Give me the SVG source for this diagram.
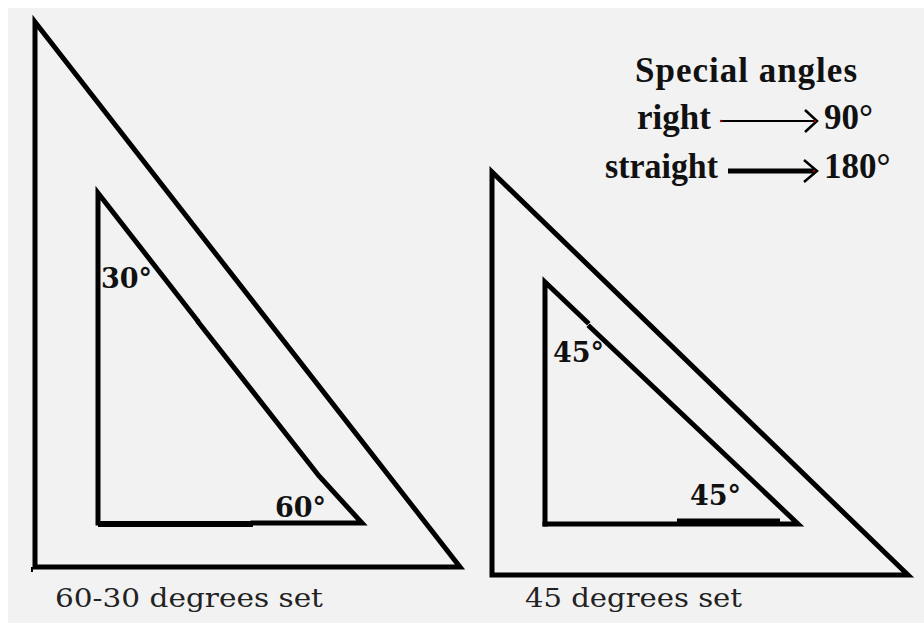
<svg xmlns="http://www.w3.org/2000/svg" width="924" height="625" viewBox="0 0 924 625">
<style>
.ln{fill:none;stroke:#000;stroke-width:5;stroke-linejoin:miter;stroke-linecap:square}
.ang{font-family:"DejaVu Serif","Liberation Serif",serif;font-weight:bold;font-size:27px;fill:#111}
.cap{font-family:"DejaVu Serif","Liberation Serif",serif;font-size:26px;fill:#222}
.sp{font-family:"Liberation Serif","Times New Roman",serif;font-weight:bold;font-size:35px;fill:#111}
.arr{fill:none;stroke:#000;stroke-linecap:butt}
</style>
<rect x="0" y="0" width="924" height="625" fill="#ffffff"/>
<rect x="8" y="8" width="916" height="615" fill="#f2f2f2"/>

<g id="set-60-30">
  <polygon class="ln" points="35,22 35,567 460,567"/>
  <line x1="32" y1="567" x2="32" y2="572" stroke="#000" stroke-width="2"/>
  <g id="inner-60-30">
    <polyline class="ln" points="98,523 98,193 197,320"/>
    <polyline class="ln" points="199,323 319,476 362,523 253,523"/>
    <line x1="98" y1="524" x2="253" y2="524" stroke="#000" stroke-width="6"/>
  </g>
  <text class="ang" x="101" y="288">30°</text>
  <text class="ang" x="275" y="517">60°</text>
  <text class="cap" x="55" y="607" textLength="268" lengthAdjust="spacingAndGlyphs">60-30 degrees set</text>
</g>

<g id="set-45">
  <polygon class="ln" points="492,172 492,575 908,575"/>
  <g id="inner-45">
    <polyline class="ln" points="545,524 545,282 587,322"/>
    <polyline class="ln" points="590,327 737,466 798,524 545,524"/>
    <line x1="677" y1="521" x2="780" y2="521" stroke="#000" stroke-width="5"/>
  </g>
  <text class="ang" x="553" y="362">45°</text>
  <text class="ang" x="690" y="505">45°</text>
  <text class="cap" x="525" y="607" textLength="217" lengthAdjust="spacingAndGlyphs">45 degrees set</text>
</g>

<g id="special-angles">
  <text class="sp" x="635" y="82" textLength="222" lengthAdjust="spacing">Special angles</text>
  <text class="sp" x="637" y="129">right</text>
  <text class="sp" x="824" y="129">90°</text>
  <text class="sp" x="605" y="178" textLength="113" lengthAdjust="spacingAndGlyphs">straight</text>
  <text class="sp" x="824" y="178">180°</text>
</g>

<g id="connectors">
  <line class="arr" x1="721" y1="121" x2="816" y2="121" stroke-width="2"/>
  <polyline class="arr" points="805,110 817,121 805,132" stroke-width="2.5"/>
  <circle cx="721" cy="121" r="1.2" fill="#a00"/>
  <circle cx="815" cy="121" r="1.2" fill="#a00"/>
  <line class="arr" x1="728" y1="171" x2="815" y2="171" stroke-width="5"/>
  <polyline class="arr" points="804,160 817,171 804,182" stroke-width="2.5"/>
  <circle cx="814" cy="171" r="1.2" fill="#a00"/>
</g>
</svg>
